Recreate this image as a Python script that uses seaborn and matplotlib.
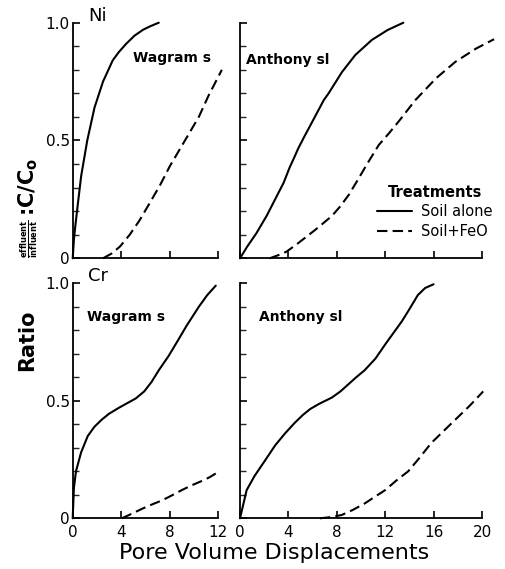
import numpy as np
import pandas as pd
import matplotlib
matplotlib.use("Agg")
import matplotlib.pyplot as plt
import seaborn as sns

sns.set_style("ticks")
plt.rcParams['font.family'] = ['DejaVu Sans']
plt.rcParams['text.color'] = 'black'

# Ni, Wagram s
ni_wag_alone_x = [0, 0.1, 0.2, 0.4, 0.7, 1.2, 1.8, 2.5, 3.3, 3.8, 4.4, 5.1, 5.8, 6.4, 7.1]
ni_wag_alone_y = [0, 0.08, 0.13, 0.22, 0.35, 0.50, 0.64, 0.75, 0.84, 0.875, 0.91, 0.945, 0.97, 0.985, 1.0]
ni_wag_feo_x = [2.5, 3.2, 3.9, 4.7, 5.5, 6.3, 7.2, 8.0, 8.8, 9.6, 10.4, 11.2, 12.0, 12.3]
ni_wag_feo_y = [0, 0.02, 0.05, 0.10, 0.16, 0.23, 0.31, 0.39, 0.46, 0.53, 0.60, 0.69, 0.77, 0.80]

# Ni, Anthony sl
ni_ant_alone_x = [0, 0.6, 1.35, 2.2, 3.0, 3.6, 4.1, 4.5, 4.8, 5.3, 5.77, 6.93, 7.32, 8.42, 9.53,
                  10.9, 12.2, 13.5]
ni_ant_alone_y = [0, 0.05, 0.106, 0.18, 0.26, 0.32, 0.385, 0.43, 0.465, 0.515, 0.56, 0.672, 0.70,
                  0.79, 0.863, 0.927, 0.969, 1.0]
ni_ant_feo_x = [2.45, 3.1, 3.84, 4.7, 5.5, 6.2, 6.88, 7.6, 8.26, 9.0, 9.7, 10.5, 11.47, 12.3, 13.1,
                14.5, 16.2, 17.8, 19.5, 21.0]
ni_ant_feo_y = [0, 0.012, 0.028, 0.06, 0.092, 0.12, 0.149, 0.18, 0.219, 0.27, 0.33, 0.40, 0.481, 0.53, 0.58,
                0.672, 0.764, 0.834, 0.89, 0.93]

# Cr, Wagram s
cr_wag_alone_x = [0, 0.1, 0.27, 0.69, 1.24, 1.8, 2.4, 3.0, 3.8, 4.5, 5.2, 5.9, 6.5, 7.1, 7.9, 8.6,
                  9.4, 10.4, 11.1, 11.8]
cr_wag_alone_y = [0, 0.13, 0.2, 0.28, 0.35, 0.39, 0.42, 0.445, 0.47, 0.49, 0.51, 0.54, 0.58, 0.63, 0.69,
                  0.75, 0.82, 0.90, 0.95, 0.99]
cr_wag_feo_x = [4.05, 4.9, 5.7, 6.5, 7.4, 8.2, 9.0, 9.8, 10.7, 11.3, 12.0]
cr_wag_feo_y = [0, 0.02, 0.04, 0.058, 0.077, 0.098, 0.12, 0.14, 0.16, 0.175, 0.197]

# Cr, Anthony sl
cr_ant_alone_x = [0, 0.55, 1.2, 2.07, 2.9, 3.7, 4.5, 5.2, 5.8, 6.5, 7.6, 8.3, 8.95, 9.6, 10.3, 11.2,
                  12.0, 12.7, 13.4, 14.0, 14.7, 15.3, 16.0]
cr_ant_alone_y = [0, 0.12, 0.18, 0.246, 0.31, 0.36, 0.405, 0.44, 0.465, 0.486, 0.514, 0.54, 0.57, 0.60,
                  0.63, 0.68, 0.74, 0.79, 0.84, 0.89, 0.95, 0.98, 0.996]
cr_ant_feo_x = [6.6, 7.5, 8.4, 9.3, 10.3, 11.1, 12.0, 12.9, 13.9, 14.8, 15.8, 16.9, 18.0, 19.0, 20.1]
cr_ant_feo_y = [0, 0.005, 0.014, 0.035, 0.063, 0.09, 0.12, 0.16, 0.2, 0.255, 0.32, 0.375, 0.43, 0.48, 0.54]

dash = (0, (5, 2.5))

fig = plt.figure(figsize=(5.05, 5.69), dpi=100)

# axes rectangles in figure fractions
left_x, left_w = 72.7 / 505, 145.5 / 505
right_x, right_w = 240 / 505, 242 / 505
top_y, top_h = 1 - 258.3 / 569, 235.6 / 569
bot_y, bot_h = 1 - 518.3 / 569, 235 / 569

ax_ni_w = fig.add_axes([left_x, top_y, left_w, top_h])
ax_ni_a = fig.add_axes([right_x, top_y, right_w, top_h])
ax_cr_w = fig.add_axes([left_x, bot_y, left_w, bot_h])
ax_cr_a = fig.add_axes([right_x, bot_y, right_w, bot_h])

panels = [
    (ax_ni_w, ni_wag_alone_x, ni_wag_alone_y, ni_wag_feo_x, ni_wag_feo_y, 12),
    (ax_ni_a, ni_ant_alone_x, ni_ant_alone_y, ni_ant_feo_x, ni_ant_feo_y, 20),
    (ax_cr_w, cr_wag_alone_x, cr_wag_alone_y, cr_wag_feo_x, cr_wag_feo_y, 12),
    (ax_cr_a, cr_ant_alone_x, cr_ant_alone_y, cr_ant_feo_x, cr_ant_feo_y, 20),
]

for ax, ax_x, ax_y, fx, fy, xmax in panels:
    sns.lineplot(x=ax_x, y=ax_y, ax=ax, color='black', lw=1.5, clip_on=False,
                 label='Soil alone')
    sns.lineplot(x=fx, y=fy, ax=ax, color='black', lw=1.5, clip_on=False,
                 linestyle=dash, label='Soil+FeO')
    if ax.get_legend() is not None:
        ax.get_legend().remove()
    ax.set_xlim(0, xmax)
    ax.set_ylim(0, 1.0)
    ax.set_xticks(np.arange(0, xmax + 1, 4))
    ax.set_yticks([0, 0.5, 1.0])
    ax.set_yticks(np.arange(0, 1.01, 0.1), minor=True)
    sns.despine(ax=ax)
    for s in ['left', 'bottom']:
        ax.spines[s].set_linewidth(1.3)
        ax.spines[s].set_color('black')
    ax.tick_params(axis='both', which='major', direction='in', length=5, width=1.2,
                   labelsize=11, colors='black')
    ax.tick_params(axis='y', which='minor', direction='in', length=4, width=1.0)
    ax.tick_params(axis='x', pad=5)
    ax.tick_params(axis='y', pad=2)
    ax.set_xlabel('')
    ax.set_ylabel('')

for ax in [ax_ni_w, ax_cr_w]:
    ax.set_yticklabels(['0', '0.5', '1.0'])
for ax in [ax_ni_a, ax_cr_a]:
    ax.set_yticklabels([])
for ax in [ax_ni_w, ax_ni_a]:
    ax.set_xticklabels([])

# metal labels and soil names
ax_ni_w.text(1.3, 1.03, 'Ni', fontsize=13, ha='left', va='center', clip_on=False)
ax_cr_w.text(1.3, 1.03, 'Cr', fontsize=13, ha='left', va='center', clip_on=False)
ax_ni_w.text(5.0, 0.85, 'Wagram s', fontsize=10, fontweight='bold', ha='left', va='center')
ax_ni_a.text(0.5, 0.84, 'Anthony sl', fontsize=10, fontweight='bold', ha='left', va='center')
ax_cr_w.text(1.2, 0.857, 'Wagram s', fontsize=10, fontweight='bold', ha='left', va='center')
ax_cr_a.text(1.6, 0.857, 'Anthony sl', fontsize=10, fontweight='bold', ha='left', va='center')

# legend
handles, labels = ax_ni_a.get_legend_handles_labels()
leg = ax_ni_a.legend(handles, labels, title='Treatments', loc='upper left',
                     bbox_to_anchor=(377 / 505, 1 - 185 / 569),
                     bbox_transform=fig.transFigure, frameon=False,
                     fontsize=10.5, handlelength=2.4, handletextpad=0.6,
                     labelspacing=0.3, borderpad=0, borderaxespad=0)
leg.get_title().set_fontsize(10.5)
leg.get_title().set_fontweight('bold')
leg.get_title().set_color('black')
for t in leg.get_texts():
    t.set_color('black')
leg._legend_box.align = 'center'

fig.text(274 / 505, 1 - 553 / 569, 'Pore Volume Displacements', fontsize=16,
         ha='center', va='center')

# y label built from three rotated pieces
fig.text(27 / 505, 1 - 340 / 569, 'Ratio', fontsize=15, fontweight='bold',
         rotation=90, ha='center', va='center')
fig.text(29 / 505, 1 - 239 / 569, r'$\frac{\mathbf{effluent}}{\mathbf{influent}}$',
         fontsize=8.5, rotation=90, ha='center', va='center')
fig.text(28 / 505, 1 - 187 / 569, r':C/C$_\mathbf{o}$', fontsize=15,
         fontweight='bold', rotation=90, ha='center', va='center')

fig.savefig('out.png', dpi=100)
